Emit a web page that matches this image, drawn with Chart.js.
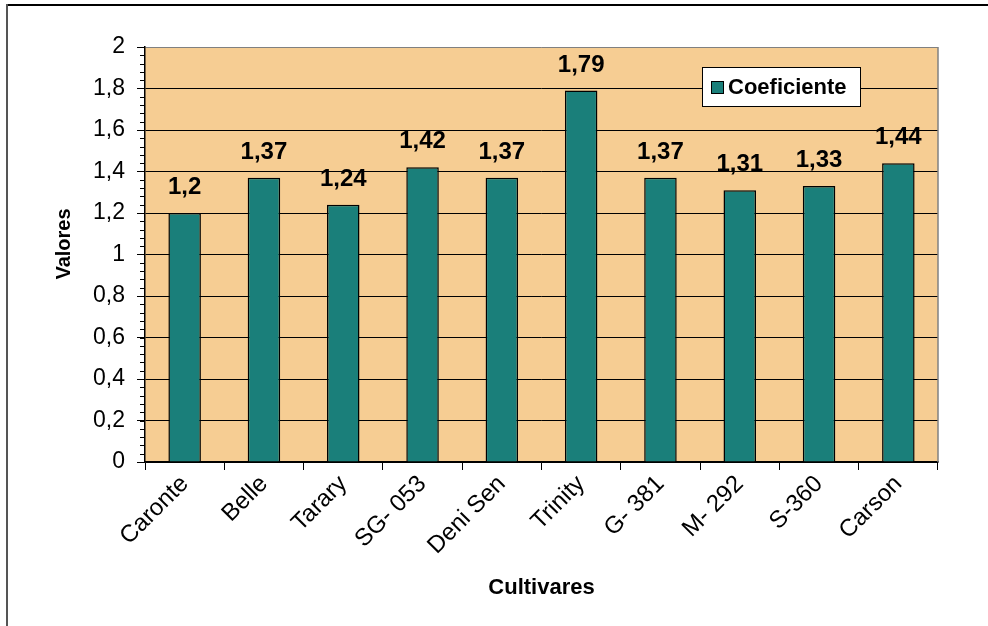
<!DOCTYPE html>
<html>
<head>
<meta charset="utf-8">
<script src="https://cdn.jsdelivr.net/npm/chart.js@4.4.1/dist/chart.umd.min.js"></script>
<style>
  html, body { margin: 0; padding: 0; background: #fff; }
  #wrap { width: 988px; height: 626px; position: relative; }
</style>
</head>
<body>
<div id="wrap"><canvas id="grafico"></canvas></div>
<script>
// Dados do gráfico
const cultivares = ["Caronte", "Belle", "Tarary", "SG- 053", "Deni Sen", "Trinity", "G- 381", "M- 292", "S-360", "Carson"];
const coeficiente = [1.2, 1.37, 1.24, 1.42, 1.37, 1.79, 1.37, 1.31, 1.33, 1.44];
const serieNome = "Coeficiente";
const tituloX = "Cultivares";
const tituloY = "Valores";
const yMin = 0;
const yMax = 2;
const yPasso = 0.2;
const yPassoMenor = 0.04;

const FONTE = "'Liberation Sans', Arial, sans-serif";
const COR_FUNDO = "#F6CD93";
const COR_BARRA = "#1A7F7A";

function virgula(v) {
  return String(Number(v.toFixed(2))).replace(".", ",");
}

// fundo da área do gráfico + moldura externa
const fundoPlugin = {
  id: "fundo",
  beforeDraw(chart) {
    const { ctx, chartArea: a } = chart;
    ctx.save();
    ctx.fillStyle = COR_FUNDO;
    ctx.fillRect(a.left, a.top, a.right - a.left, a.bottom - a.top);
    // moldura
    ctx.lineWidth = 2;
    ctx.strokeStyle = "#000";
    ctx.beginPath();
    ctx.moveTo(6, 5);
    ctx.lineTo(chart.width, 5);
    ctx.stroke();
    ctx.strokeStyle = "#555";
    ctx.beginPath();
    ctx.moveTo(7, 4);
    ctx.lineTo(7, chart.height);
    ctx.stroke();
    ctx.restore();
  },
  afterDraw(chart) {
    const { ctx, chartArea: a, scales } = chart;
    ctx.save();
    // borda direita cinza
    ctx.strokeStyle = "#808080";
    ctx.lineWidth = 1.5;
    ctx.beginPath();
    ctx.moveTo(a.right, a.top);
    ctx.lineTo(a.right, a.bottom);
    ctx.stroke();

    // marcas menores do eixo y
    const y = scales.y;
    ctx.strokeStyle = "#000";
    ctx.lineWidth = 1;
    for (let v = yMin; v <= yMax + 1e-9; v += yPassoMenor) {
      const py = Math.round(y.getPixelForValue(v)) + 0.5;
      ctx.beginPath();
      ctx.moveTo(a.left - 5, py);
      ctx.lineTo(a.left, py);
      ctx.stroke();
    }

    // título do eixo y
    ctx.fillStyle = "#000";
    ctx.font = "bold 20px " + FONTE;
    ctx.textAlign = "center";
    ctx.textBaseline = "middle";
    ctx.save();
    ctx.translate(64, 244);
    ctx.rotate(-Math.PI / 2);
    ctx.fillText(tituloY, 0, 0);
    ctx.restore();

    // rótulos de valor acima das barras
    const meta = chart.getDatasetMeta(0);
    ctx.font = "bold 24px " + FONTE;
    ctx.textBaseline = "alphabetic";
    meta.data.forEach((bar, i) => {
      ctx.fillText(virgula(coeficiente[i]), bar.x, bar.y - 19);
    });

    // legenda
    const lx = a.right - 236;
    const ly = a.top + 20;
    ctx.fillStyle = "#fff";
    ctx.fillRect(lx, ly, 158, 39);
    ctx.strokeStyle = "#000";
    ctx.lineWidth = 1;
    ctx.strokeRect(lx + 0.5, ly + 0.5, 158, 39);
    ctx.fillStyle = COR_BARRA;
    ctx.fillRect(lx + 9, ly + 14, 12, 12);
    ctx.strokeRect(lx + 9.5, ly + 14.5, 12, 12);
    ctx.fillStyle = "#000";
    ctx.font = "bold 22px " + FONTE;
    ctx.textAlign = "left";
    ctx.fillText(chart.data.datasets[0].label, lx + 26, ly + 27);
    ctx.restore();
  }
};

new Chart(document.getElementById("grafico"), {
  type: "bar",
  data: {
    labels: cultivares,
    datasets: [
      {
        label: serieNome,
        data: coeficiente,
        backgroundColor: COR_BARRA,
        borderColor: "#000",
        borderWidth: 1.5,
        categoryPercentage: 1,
        barPercentage: 0.41,
      },
    ],
  },
  options: {
    responsive: true,
    maintainAspectRatio: false,
    animation: false,
    layout: { padding: { left: 0, top: 47, right: 50, bottom: 0 } },
    plugins: {
      legend: { display: false },
      tooltip: { enabled: false },
    },
    scales: {
      x: {
        afterFit(scale) {
          scale.height = 164;
        },
        grid: {
          display: true,
          drawOnChartArea: false,
          drawTicks: true,
          tickLength: 8,
          tickColor: "#000",
          offset: true,
        },
        border: { color: "#000", width: 1.5 },
        ticks: {
          color: "#000",
          font: { family: FONTE, size: 24 },
          minRotation: 45,
          maxRotation: 45,
          padding: 0,
          autoSkip: false,
        },
        title: {
          display: true,
          text: tituloX,
          color: "#000",
          font: { family: FONTE, size: 22, weight: "bold" },
          padding: { top: 0, bottom: 25 },
        },
      },
      y: {
        min: yMin,
        max: yMax,
        afterFit(scale) {
          scale.width = 145;
        },
        grid: {
          color: (c) => (c.tick && c.tick.value === yMax ? "#808080" : "#000"),
          lineWidth: 1,
          drawTicks: true,
          tickLength: 8,
          tickColor: "#000",
        },
        border: { color: "#000", width: 1.5 },
        ticks: {
          stepSize: yPasso,
          color: "#000",
          font: { family: FONTE, size: 23 },
          padding: 12,
          callback: (v) => virgula(v),
        },
        title: { display: false },
      },
    },
  },
  plugins: [fundoPlugin],
});
</script>
</body>
</html>
